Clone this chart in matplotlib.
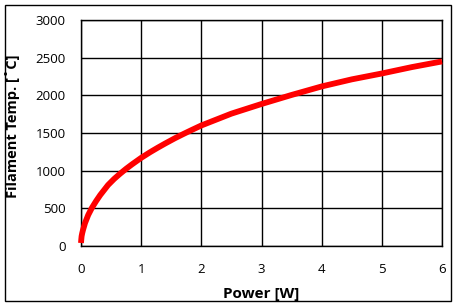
import matplotlib
matplotlib.use("Agg")
import matplotlib.pyplot as plt
from matplotlib.patches import Rectangle

power = [0.0, 0.005, 0.01, 0.02, 0.033, 0.067, 0.12, 0.18, 0.25, 0.32, 0.45, 0.55, 0.65, 0.75,
         0.85, 1.0, 1.15, 1.28, 1.4, 1.56, 1.7, 1.84, 2.0, 2.5, 3.0, 3.5, 4.0, 4.5, 5.0, 5.5, 6.0]
temp = [40, 90, 130, 170, 212, 305, 412, 505, 595, 677, 810, 890, 960, 1025,
        1085, 1170, 1246, 1307, 1361, 1430, 1486, 1540, 1600, 1757, 1885, 2005, 2118, 2212,
        2290, 2375, 2450]

xticks = [0, 1, 2, 3, 4, 5, 6]
yticks = [0, 500, 1000, 1500, 2000, 2500, 3000]

plt.rcParams['font.family'] = ['Open Sans', 'DejaVu Sans']

fig = plt.figure(figsize=(4.58, 3.07), dpi=100)
fig.patches.append(Rectangle((5/458, 1-301/307), 446/458, 296/307, transform=fig.transFigure,
                             fill=False, edgecolor='black', linewidth=1.0))
ax = fig.add_axes([81/458, 1-246/307, 361/458, 226/307])
ax.plot(power, temp, color='#ff0000', linewidth=4.2, solid_capstyle='butt',
        solid_joinstyle='round', zorder=3, clip_on=False)
ax.set_xlim(0, 6)
ax.set_ylim(0, 3000)
ax.set_xticks(xticks)
ax.set_yticks(yticks)
ax.grid(True, color='black', linewidth=1.0)
for s in ax.spines.values():
    s.set_color('black')
    s.set_linewidth(1.0)
ax.tick_params(length=0, labelsize=9.5, pad=11, colors='black')
ax.tick_params(axis='x', pad=12)
ax.set_xlabel('Power [W]', fontsize=11, fontweight='bold')
ax.set_ylabel('Filament Temp. [˚C]', fontsize=10.5, fontweight='bold')
ax.xaxis.set_label_coords(0.5, (1-287/307 - (1-246/307)) / (226/307), transform=ax.transAxes)
ax.yaxis.set_label_coords((20-81)/361, (1-126/307 - (1-246/307)) / (226/307), transform=ax.transAxes)
fig.savefig('out.png', dpi=100)
